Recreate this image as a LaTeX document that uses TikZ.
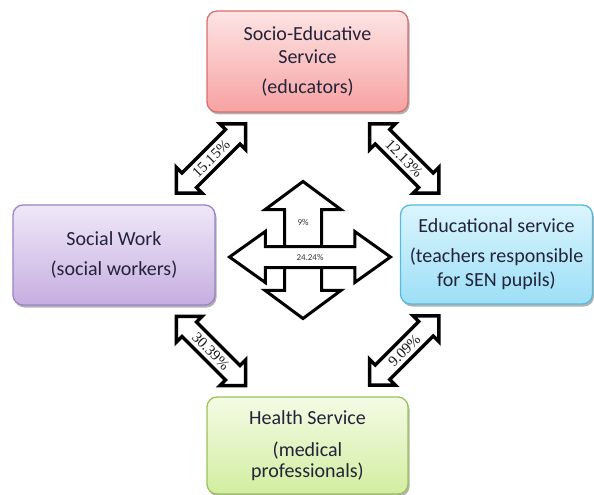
\documentclass[tikz,border=0pt]{standalone}
\usepackage{fontspec}
\newfontfamily\calib{Carlito}
\newfontfamily\lblserif{Liberation Serif}
\usetikzlibrary{shapes.arrows,shadows,calc}
\definecolor{redTop}{HTML}{FDE4E4}
\definecolor{redBot}{HTML}{F7A2A2}
\definecolor{redLine}{HTML}{D96E6E}
\definecolor{purTop}{HTML}{EFE8F8}
\definecolor{purBot}{HTML}{C6AEE0}
\definecolor{purLine}{HTML}{9C82C6}
\definecolor{bluTop}{HTML}{DAF5FD}
\definecolor{bluBot}{HTML}{9DDFF6}
\definecolor{bluLine}{HTML}{56BADD}
\definecolor{grnTop}{HTML}{F4FBE5}
\definecolor{grnBot}{HTML}{D2EEA0}
\definecolor{grnLine}{HTML}{9CC25A}
\definecolor{boxText}{HTML}{23233A}
\begin{document}
\begin{tikzpicture}[x=1bp,y=-1bp,
  box/.style={rectangle, rounded corners=10bp, line width=1.3bp, align=center,
    inner sep=2bp, text=boxText,
    font=\calib\fontsize{20bp}{22bp}\selectfont,
    drop shadow={shadow xshift=1.5bp, shadow yshift=-2.5bp, opacity=0.3, fill=black}},
  darrow/.style={double arrow, draw=black, fill=white, line width=3.5bp,
    double arrow tip angle=90, double arrow head extend=8bp,
    minimum height=98bp, minimum width=0pt, inner xsep=0pt, inner ysep=3bp,
    text height=10.5bp, text depth=0.5bp, text=black!90,
    font=\lblserif\fontsize{15bp}{15bp}\selectfont},
  carrow/.style={double arrow, draw=black, fill=white, line width=3bp,
    minimum width=0pt, inner xsep=0pt, text=black!80,
    font=\calib\fontsize{9bp}{9bp}\selectfont}
]
\useasboundingbox (0,0) rectangle (594,495);

\node[box, top color=redTop, bottom color=redBot, draw=redLine,
  minimum width=201bp, minimum height=101bp] (ses) at (307.5,61.5)
  {Socio-Educative\\[1bp]Service\\[8bp](educators)};
\node[box, top color=purTop, bottom color=purBot, draw=purLine,
  minimum width=202bp, minimum height=100bp] (sw) at (114,255)
  {Social Work\\[8bp](social workers)};
\node[box, top color=bluTop, bottom color=bluBot, draw=bluLine,
  minimum width=192bp, minimum height=99bp] (edu) at (496.5,254.5)
  {Educational service\\[8bp](teachers responsible\\[2bp]for SEN pupils)};
\node[box, top color=grnTop, bottom color=grnBot, draw=grnLine,
  minimum width=201bp, minimum height=97bp] (hs) at (307.5,445.5)
  {Health Service\\[10bp](medical\\[-1bp]professionals)};

\node[darrow, rotate=45] (a1) at ($(ses.south west)!0.5!(sw.north east)$) {15.15\%};
\node[darrow, rotate=-45] (a2) at ($(ses.south east)!0.5!(edu.north west)$) {12.13\%};
\node[darrow, rotate=-45] (a3) at ($(sw.south east)!0.5!(hs.north west)$) {30.39\%};
\node[darrow, rotate=45] (a4) at ($(edu.south west)!0.5!(hs.north east)$) {9.09\%};

\node[carrow, rotate=90, double arrow tip angle=107, double arrow head extend=19.5bp,
  minimum height=137bp, inner ysep=17bp, text height=0bp, text depth=0bp] (v) at (303,250) {};
\node[carrow, double arrow tip angle=71, double arrow head extend=15bp,
  minimum height=161bp, inner ysep=5bp, text height=7bp, text depth=1bp] (h) at (310,257) {24.24\%};
\node[text=black!80, font=\calib\fontsize{9bp}{9bp}\selectfont] (l9) at (303,222) {9\%};
\end{tikzpicture}
\end{document}
